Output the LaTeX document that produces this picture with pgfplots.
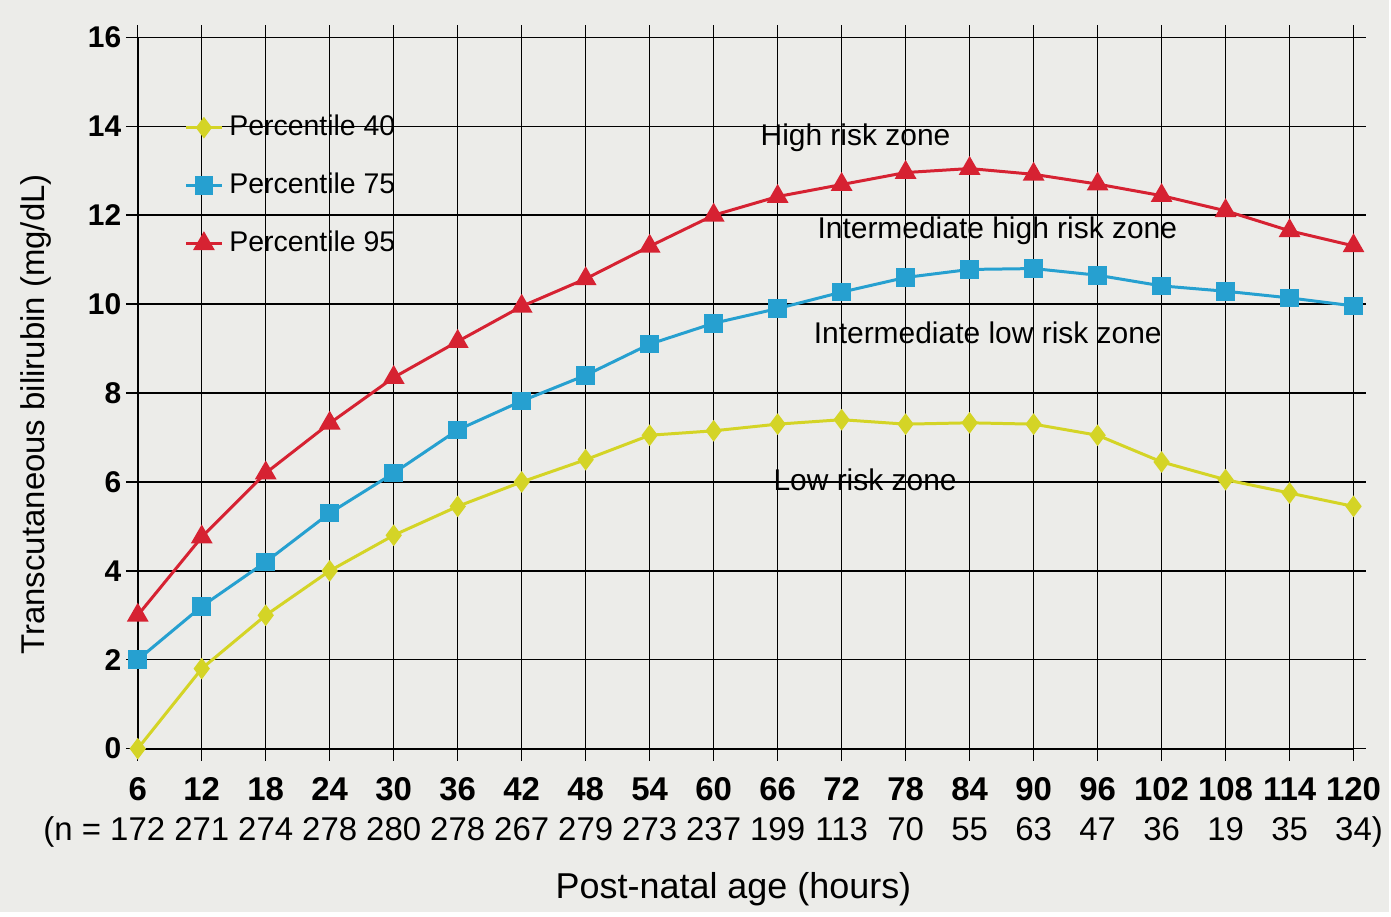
\documentclass[border=0pt]{standalone}
\usepackage{fontspec}
\setmainfont{Liberation Sans}
\usepackage{pgfplots}
\pgfplotsset{compat=1.18}
\usetikzlibrary{backgrounds}
\definecolor{pyellow}{RGB}{212,212,38}
\definecolor{pblue}{RGB}{38,160,208}
\definecolor{pred}{RGB}{214,34,50}
\definecolor{paper}{RGB}{236,236,233}
\newcommand{\tl}[2]{\textbf{\strut #1}\\[1pt]\strut #2}
\begin{document}
\begin{tikzpicture}
\begin{axis}[
  scale only axis,
  width=406pt, height=237.5pt,
  xmin=6, xmax=120, ymin=0, ymax=16,
  xtick={6,12,...,120},
  ytick={0,2,...,16},
  yticklabels={0,2,4,6,8,10,12,14,16},
  xticklabels={
    {\tl{6}{\llap{(n = }172}},
    {\tl{12}{271}},
    {\tl{18}{274}},
    {\tl{24}{278}},
    {\tl{30}{280}},
    {\tl{36}{278}},
    {\tl{42}{267}},
    {\tl{48}{279}},
    {\tl{54}{273}},
    {\tl{60}{237}},
    {\tl{66}{199}},
    {\tl{72}{113}},
    {\tl{78}{70}},
    {\tl{84}{55}},
    {\tl{90}{63}},
    {\tl{96}{47}},
    {\tl{102}{36}},
    {\tl{108}{19}},
    {\tl{114}{35}},
    {\tl{120}{34\rlap{)}}}
  },
  xticklabel style={align=center, font=\fontsize{11}{12.5}\selectfont, yshift=-1pt},
  yticklabel style={font=\fontsize{10}{12}\selectfont\bfseries, xshift=2pt},
  tick align=outside,
  major tick length=4pt,
  tick style={black, line width=0.5pt},
  grid=major,
  major grid style={black, line width=0.5pt},
  axis line style={black, line width=0.6pt},
  xlabel={Post-natal age (hours)},
  ylabel={Transcutaneous bilirubin (mg/dL)},
  every axis x label/.style={at={(rel axis cs:0.49,0)}, anchor=center, yshift=-47pt, font=\fontsize{12}{14}\selectfont},
  every axis y label/.style={at={(rel axis cs:0,0.47)}, anchor=center, rotate=90, yshift=34pt, font=\fontsize{11}{13}\selectfont},
  legend style={at={(rel axis cs:0.038,0.90)}, anchor=north west, draw=none, fill=none,
    font=\fontsize{9.5}{11}\selectfont, row sep=7pt, inner sep=0pt},
  legend image code/.code={\draw[#1] (0cm,0cm) -- (0.42cm,0cm); \draw[#1, mark repeat=2, mark phase=2] plot coordinates {(0cm,0cm) (0.21cm,0cm) (0.42cm,0cm)};},
  legend cell align=left,
  every axis plot/.append style={line width=1pt},
]
\addplot[color=pyellow, mark=diamond*, mark size=2.8pt, mark options={solid, fill=pyellow}] coordinates {
(6,0) (12,1.8) (18,3.0) (24,4.0) (30,4.8) (36,5.45) (42,6.0) (48,6.5) (54,7.05) (60,7.15)
(66,7.3) (72,7.4) (78,7.3) (84,7.33) (90,7.3) (96,7.05) (102,6.45) (108,6.05) (114,5.75) (120,5.45)};
\addlegendentry{Percentile 40}
\addplot[color=pblue, mark=square*, mark size=2.6pt, mark options={solid, fill=pblue}] coordinates {
(6,2.0) (12,3.2) (18,4.2) (24,5.3) (30,6.2) (36,7.17) (42,7.82) (48,8.4) (54,9.1) (60,9.57)
(66,9.9) (72,10.27) (78,10.6) (84,10.78) (90,10.8) (96,10.65) (102,10.41) (108,10.29) (114,10.14) (120,9.96)};
\addlegendentry{Percentile 75}
\addplot[color=pred, mark=triangle*, mark size=3.2pt, mark options={solid, fill=pred}] coordinates {
(6,3.0) (12,4.76) (18,6.2) (24,7.32) (30,8.35) (36,9.16) (42,9.95) (48,10.57) (54,11.3) (60,12.0)
(66,12.42) (72,12.69) (78,12.96) (84,13.05) (90,12.92) (96,12.7) (102,12.44) (108,12.1) (114,11.65) (120,11.31)};
\addlegendentry{Percentile 95}
\node[font=\fontsize{10}{12}\selectfont] at (axis cs:73.3,13.75) {High risk zone};
\node[font=\fontsize{10}{12}\selectfont] at (axis cs:86.6,11.65) {Intermediate high risk zone};
\node[font=\fontsize{10}{12}\selectfont] at (axis cs:85.7,9.35) {Intermediate low risk zone};
\node[font=\fontsize{10}{12}\selectfont] at (axis cs:74.2,6.05) {Low risk zone};
\end{axis}
\begin{pgfonlayer}{background}
\fill[paper] ([shift={(-46pt,-54.7pt)}]current axis.south west) rectangle ([shift={(417.7pt,250pt)}]current axis.south west);
\end{pgfonlayer}
\end{tikzpicture}
\end{document}
